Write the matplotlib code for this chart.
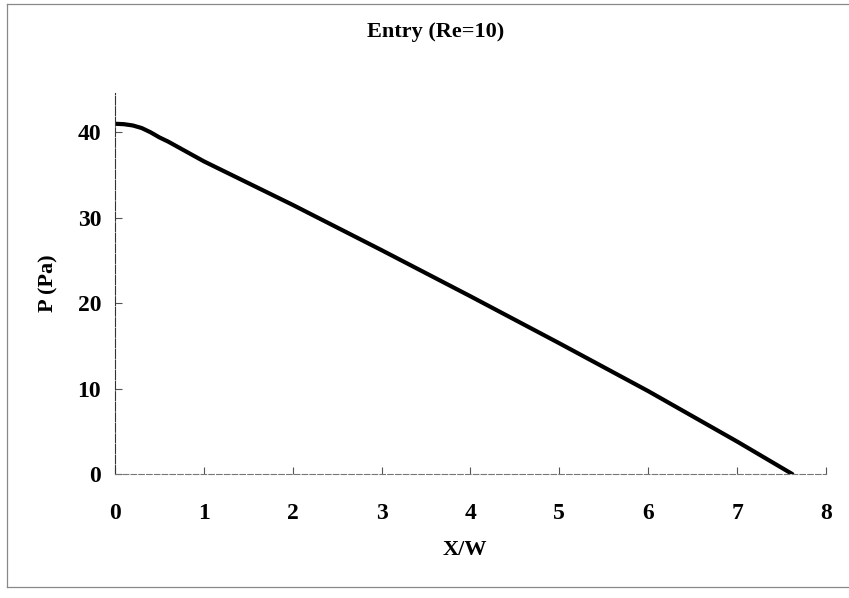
import numpy as np
import matplotlib.pyplot as plt
from matplotlib.lines import Line2D

# valori: pressione lungo il canale (Re=10)
x_w = [0.0, 0.1, 0.2, 0.3, 0.4, 0.5, 0.6, 1.0, 2.0, 3.0, 4.0, 5.0, 6.0, 7.0, 7.62]
p_pa = [41.0, 40.95, 40.8, 40.5, 40.0, 39.4, 38.9, 36.6, 31.5, 26.2, 20.8, 15.3, 9.7, 3.8, 0.0]

x_ticks = [0, 1, 2, 3, 4, 5, 6, 7, 8]
y_ticks = [0, 10, 20, 30, 40]

plt.rcParams['font.family'] = ['Liberation Serif', 'DejaVu Serif']
plt.rcParams['font.weight'] = 'bold'

fig = plt.figure(figsize=(8.49, 5.98), dpi=100)
ax = fig.add_axes([115/849, 1 - 474/598, (826 - 115)/849, (474 - 93)/598])

ax.plot(x_w, p_pa, color='black', lw=3, solid_capstyle='round',
        solid_joinstyle='round')

ax.set_xlim(0, 8)
ax.set_ylim(0, 44.6)
ax.set_xticks(x_ticks)
ax.set_yticks(y_ticks)
ax.tick_params(axis='x', direction='in', length=5, width=0.8, color='#555',
               pad=21, labelsize=17)
ax.tick_params(axis='y', direction='in', length=5, width=0.8, color='#555',
               pad=10, labelsize=17)
for lab in ax.get_xticklabels() + ax.get_yticklabels():
    lab.set_fontweight('bold')

ax.spines['top'].set_visible(False)
ax.spines['right'].set_visible(False)
ax.spines['left'].set_color('#333')
ax.spines['left'].set_linewidth(0.8)
ax.spines['left'].set_linestyle((0, (8, 1.5)))
ax.spines['bottom'].set_color('#777')
ax.spines['bottom'].set_linewidth(0.8)
ax.spines['bottom'].set_linestyle((0, (5, 2)))

# etichette e titolo
fig.text(465/849, 1 - 550/598, "X/W", ha='center', va='center',
         fontsize=16, fontweight='bold')
fig.text(48/849, 1 - 283/598, "P (Pa)", ha='center', va='center',
         rotation=90, fontsize=16, fontweight='bold')
fig.text(436/849, 1 - 32/598, "Entry (Re=10)", ha='center', va='center',
         fontsize=16, fontweight='bold')

# cornice del grafico (come nella scansione)
for xs, ys in [([7/849, 7/849], [1 - 4/598, 1 - 587/598]),
               ([7/849, 1.0], [1 - 4/598, 1 - 4/598]),
               ([7/849, 1.0], [1 - 587/598, 1 - 587/598])]:
    fig.add_artist(Line2D(xs, ys, color='#888', lw=0.9,
                          transform=fig.transFigure))

fig.savefig("out.png", dpi=100)
